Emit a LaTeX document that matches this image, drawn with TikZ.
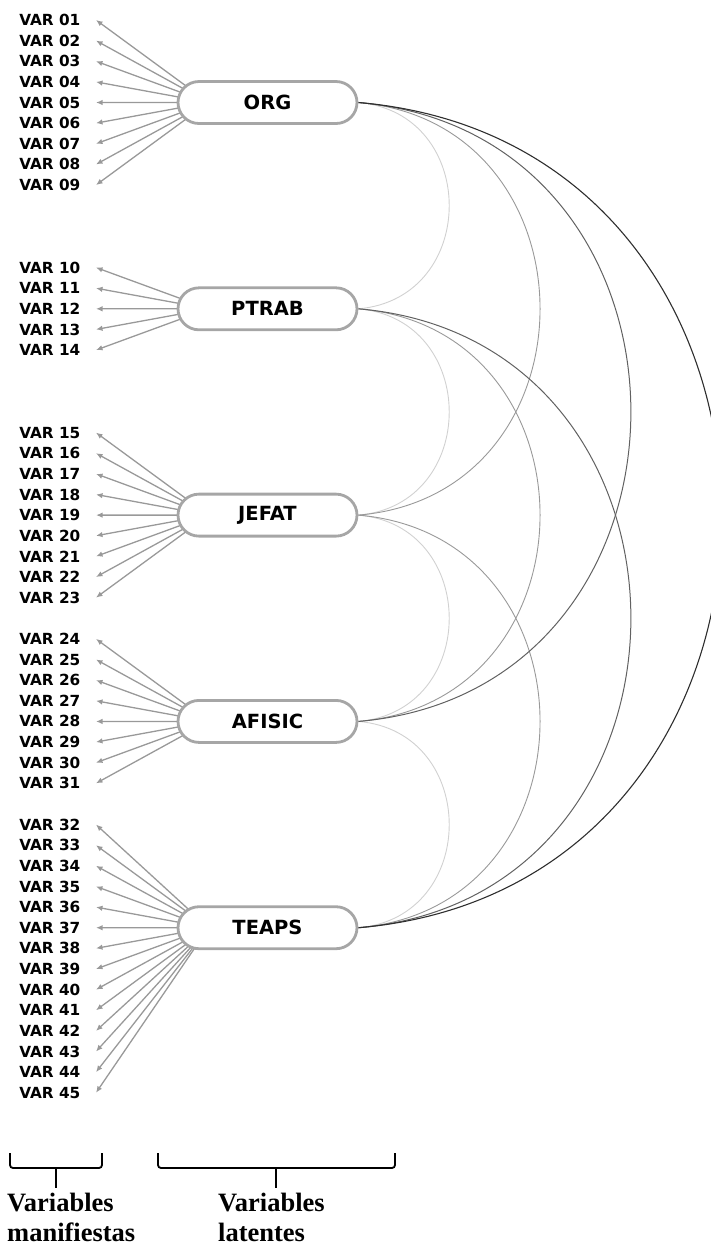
\documentclass[tikz,border=0pt]{standalone}
\usepackage{fontspec}
\setmainfont{Liberation Serif}
\newfontfamily\diagfont{DejaVu Sans}
\usetikzlibrary{shapes.misc,arrows.meta,backgrounds}

\begin{document}
\begin{tikzpicture}[x=1pt,y=-1pt,
  manifest/.style={anchor=east, inner xsep=15.5pt, inner ysep=1pt,
    font=\diagfont\bfseries\fontsize{15.3}{16}\selectfont},
  latent/.style={rounded rectangle, draw=black!35, line width=2.8pt, fill=white,
    minimum width=179pt, minimum height=42pt, inner sep=0pt,
    font=\diagfont\bfseries\fontsize{19.5}{21}\selectfont},
  load/.style={draw=black!40, line width=1.3pt, -{Latex[length=6.5pt,width=5.5pt]}},
  corr1/.style={draw=black!18, line width=0.9pt},
  corr2/.style={draw=black!40, line width=0.9pt},
  corr3/.style={draw=black!62, line width=1pt},
  corr4/.style={draw=black!82, line width=1.1pt},
  bracket/.style={draw=black, line width=1.8pt, rounded corners=3pt},
  caption/.style={anchor=north west, inner sep=0pt, align=left,
    font=\bfseries\fontsize{26.5}{30}\selectfont}
]
\useasboundingbox (0,0) rectangle (710,1246);

% latent factors
\node[latent] (org)    at (267.5,102.52) {ORG};
\node[latent] (ptrab)  at (267.5,308.82) {PTRAB};
\node[latent] (jefat)  at (267.5,515.12) {JEFAT};
\node[latent] (afisic) at (267.5,721.42) {AFISIC};
\node[latent] (teaps)  at (267.5,927.72) {TEAPS};

% points inside each factor from which the loadings fan out
\foreach \f in {org,ptrab,jefat,afisic,teaps}
  \coordinate (\f-hub) at ([xshift=32pt]\f.west);

% manifest indicators and their loadings
\foreach \n/\k/\f in {
  01/0/org, 02/1/org, 03/2/org, 04/3/org, 05/4/org, 06/5/org, 07/6/org, 08/7/org, 09/8/org,
  10/12/ptrab, 11/13/ptrab, 12/14/ptrab, 13/15/ptrab, 14/16/ptrab,
  15/20/jefat, 16/21/jefat, 17/22/jefat, 18/23/jefat, 19/24/jefat, 20/25/jefat, 21/26/jefat, 22/27/jefat, 23/28/jefat,
  24/30/afisic, 25/31/afisic, 26/32/afisic, 27/33/afisic, 28/34/afisic, 29/35/afisic, 30/36/afisic, 31/37/afisic,
  32/39/teaps, 33/40/teaps, 34/41/teaps, 35/42/teaps, 36/43/teaps, 37/44/teaps, 38/45/teaps,
  39/46/teaps, 40/47/teaps, 41/48/teaps, 42/49/teaps, 43/50/teaps, 44/51/teaps, 45/52/teaps}
{
  \node[manifest] (v\n) at (96,{20+20.63*\k}) {VAR \n};
  \begin{pgfonlayer}{background}
    \draw[load] (\f-hub) -- (v\n.east);
  \end{pgfonlayer}
}

% correlations between factors
\begin{pgfonlayer}{background}
\foreach \a/\b/\s in {org/ptrab/1, ptrab/jefat/1, jefat/afisic/1, afisic/teaps/1,
                      org/jefat/2, ptrab/afisic/2, jefat/teaps/2,
                      org/afisic/3, ptrab/teaps/3,
                      org/teaps/4}
  \draw[corr\s] (\a.east) .. controls +({121.1*\s},{10.3*\s}) and +({121.1*\s},{-10.3*\s}) .. (\b.east);
\end{pgfonlayer}

% group brackets
\draw[bracket] (10,1153) -- (10,1168) -- (102,1168) -- (102,1153);
\draw[line width=2pt] (55.5,1168) -- (55.5,1188);
\draw[bracket] (158,1153) -- (158,1168) -- (395,1168) -- (395,1153);
\draw[line width=2pt] (276,1168) -- (276,1188);

\node[caption] (lblman) at (7,1193) {Variables\\manifiestas};
\node[caption] (lbllat) at (218,1193) {Variables\\latentes};
\end{tikzpicture}
\end{document}
